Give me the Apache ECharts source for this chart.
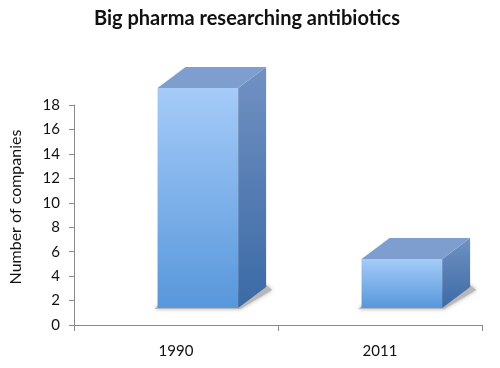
<!DOCTYPE html>
<html><head><meta charset="utf-8">
<script src="https://cdn.jsdelivr.net/npm/echarts@6/dist/echarts.min.js"></script>
<style>html,body{margin:0;padding:0;background:#fff}#c{width:500px;height:368px}</style>
</head><body><div id="c"></div>
<script>
const categories = ['1990', '2011'];
const companies = [18, 4];
const yTicks = [0, 2, 4, 6, 8, 10, 12, 14, 16, 18];

const chart = echarts.init(document.getElementById('c'));
const font = 'Lato, "Open Sans", sans-serif';

function renderItem(params, api) {
  const cat = api.value(0), val = api.value(1);
  const base = api.coord([cat, 0]);
  const top = api.coord([cat, val]);
  const band = api.size([1, 0])[0];
  const w = band * 0.395;
  const off = band * 0.107;
  const lift = 17;
  const ddx = 28, ddy = -21;
  const x0 = base[0] - w / 2 + off;
  const x1 = x0 + w;
  const yb = base[1] - lift;
  const yt = top[1] - lift;
  return {
    type: 'group',
    children: [
      { type: 'polygon', shape: { points: [[x0 - 3, yb + 1], [x1 + 2, yb + 1], [x1 + ddx + 6, yb + ddy + 3], [x1 + ddx, yb + ddy - 2], [x0, yb - 2]] },
        style: { fill: '#b8b8b8', shadowBlur: 4, shadowColor: 'rgba(0,0,0,0.3)' } },
      { type: 'polygon', shape: { points: [[x1, yt], [x1 + ddx, yt + ddy], [x1 + ddx, yb + ddy], [x1, yb]] },
        style: { fill: new echarts.graphic.LinearGradient(0, 0, 0, 1, [{ offset: 0, color: '#7191c2' }, { offset: 1, color: '#3b6aa5' }]) } },
      { type: 'polygon', shape: { points: [[x0, yt], [x0 + ddx, yt + ddy], [x1 + ddx, yt + ddy], [x1, yt]] },
        style: { fill: '#7e9ecf' } },
      { type: 'rect', shape: { x: x0, y: yt, width: w, height: yb - yt },
        style: { fill: new echarts.graphic.LinearGradient(0, 0, 0, 1, [{ offset: 0, color: '#a5cbf8' }, { offset: 1, color: '#5797db' }]) } }
    ]
  };
}

chart.setOption({
  animation: false,
  title: {
    text: 'Big pharma researching antibiotics',
    left: 242, top: 4, textAlign: 'center',
    textStyle: { fontFamily: font, fontWeight: 'bold', fontSize: 20, color: '#111' }
  },
  grid: { left: 73, right: 18, top: 105, bottom: 43 },
  xAxis: {
    type: 'category', data: categories,
    axisLine: { lineStyle: { color: '#8a8a8a' } },
    axisTick: { show: true, alignWithLabel: false, length: 6, lineStyle: { color: '#8a8a8a' } },
    axisLabel: { fontFamily: font, fontSize: 15, color: '#111', margin: 19 }
  },
  yAxis: {
    type: 'value', min: 0, max: 18, interval: 2,
    name: 'Number of companies', nameLocation: 'middle', nameGap: 50,
    nameTextStyle: { fontFamily: font, fontSize: 16, color: '#111', padding: [0, 0, 0, 16] },
    axisLine: { show: true, lineStyle: { color: '#8a8a8a' } },
    axisTick: { show: true, length: 5, lineStyle: { color: '#8a8a8a' } },
    axisLabel: { fontFamily: font, fontSize: 15, color: '#111', margin: 14,
      formatter: v => yTicks.indexOf(v) >= 0 ? String(v) : '' },
    splitLine: { show: false }
  },
  series: [{
    type: 'custom', renderItem: renderItem,
    data: companies.map((v, i) => [i, v]),
    encode: { x: 0, y: 1 }, clip: false
  }]
});
</script></body></html>
